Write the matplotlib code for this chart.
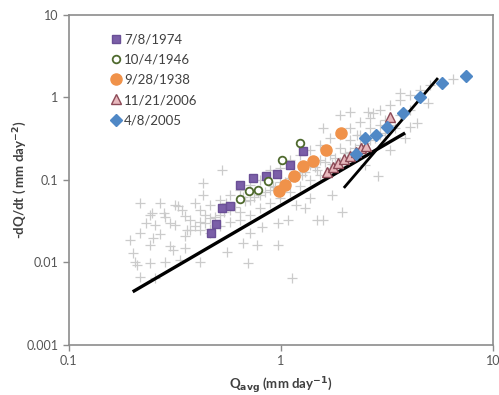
import numpy as np
import matplotlib.pyplot as plt
from matplotlib.ticker import FixedLocator, NullLocator

plt.rcParams['font.family'] = ['Lato', 'DejaVu Sans']

# storm events
q_1974 = [0.468, 0.493, 0.527, 0.574, 0.641, 0.738, 0.849, 0.957, 1.10, 1.27]
dq_1974 = [0.0228, 0.0293, 0.0458, 0.0484, 0.0869, 0.106, 0.112, 0.118, 0.152, 0.225]

q_1946 = [0.641, 0.706, 0.780, 0.869, 1.01, 1.23]
dq_1946 = [0.0589, 0.0736, 0.0756, 0.0973, 0.175, 0.281]

q_1938 = [0.980, 1.04, 1.15, 1.27, 1.42, 1.63, 1.92]
dq_1938 = [0.0736, 0.0869, 0.112, 0.148, 0.170, 0.231, 0.371]

q_2006 = [1.65, 1.76, 1.86, 1.98, 2.12, 2.26, 2.38, 2.52, 3.27]
dq_2006 = [0.125, 0.144, 0.161, 0.180, 0.195, 0.218, 0.244, 0.258, 0.580]

q_2005 = [2.26, 2.49, 2.81, 3.16, 3.76, 4.53, 5.74, 7.46]
dq_2005 = [0.207, 0.323, 0.351, 0.439, 0.649, 1.01, 1.50, 1.82]

# all other recession points (grey crosses)
q_all = [0.216, 0.269, 0.316, 0.393, 0.241, 0.284, 0.352, 0.438, 0.255, 0.316,
         0.393, 0.216, 0.269, 0.352, 0.462, 0.241, 0.299, 0.352, 0.205, 0.241,
         0.284, 0.334, 0.415, 0.216, 0.255, 0.327, 0.246, 0.209, 0.527, 0.428,
         0.428, 0.194,
         1.37, 1.74, 1.94, 1.48, 1.58, 1.08, 0.968, 0.813, 0.714, 0.968,
         0.771, 0.662, 0.698, 0.556, 1.13, 1.30, 1.18,
         3.64, 2.12, 2.57, 2.71, 1.58, 4.38, 4.94, 6.48, 2.87, 2.28,
         3.85, 4.06, 1.90, 3.10, 2.49, 3.27,
         0.372, 0.372, 0.415, 0.415, 0.415, 0.462, 0.462, 0.462, 0.515, 0.515,
         0.515, 0.574, 0.574, 0.574, 0.641, 0.641, 0.641, 0.714, 0.714, 0.714,
         0.796, 0.796, 0.796, 0.887, 0.887, 0.887, 0.989, 0.989, 0.989, 1.10,
         1.10, 1.10, 1.23, 1.23, 1.23, 1.37, 1.37, 1.37, 1.53, 1.53,
         1.53, 1.70, 1.70, 1.70, 1.90, 1.90, 1.90, 2.12, 2.12, 2.12,
         2.36, 2.36, 2.36, 2.63, 2.63, 2.63, 2.93, 2.93, 2.93, 3.27,
         3.27, 3.64, 3.64, 4.06, 4.06, 4.53, 5.04,
         0.44, 0.49, 0.54, 0.61, 0.68, 0.75, 0.84, 0.94, 1.04, 1.16,
         1.30, 1.45, 1.62, 1.80, 2.01, 2.24, 2.50, 2.78, 3.10, 3.45,
         0.55, 0.66, 0.78, 0.92, 1.08, 1.26, 1.48, 1.74, 2.05, 2.40,
         0.30, 0.34, 0.36, 0.28, 0.23, 0.20, 0.25, 0.31]
dq_all = [0.0526, 0.0526, 0.0498, 0.0526, 0.0377, 0.0356, 0.0366, 0.0377, 0.0285, 0.0285,
          0.0278, 0.0228, 0.0222, 0.0210, 0.0228, 0.0163, 0.0159, 0.0150, 0.0101, 0.0099,
          0.0101, 0.0107, 0.0101, 0.0067, 0.0065, 0.0484, 0.0398, 0.0093, 0.132, 0.092,
          0.0658, 0.0187,
          0.0605, 0.0658, 0.0409, 0.0327, 0.0327, 0.0327, 0.0301, 0.0269, 0.0228, 0.0163,
          0.0163, 0.0172, 0.0098, 0.0134, 0.0065, 0.0458, 0.0498,
          1.13, 0.667, 0.667, 0.649, 0.427, 0.491, 0.857, 1.68, 0.112, 0.351,
          0.323, 0.439, 0.614, 0.534, 0.152, 0.231,
          0.0327, 0.0248, 0.0433, 0.0310, 0.0248, 0.0498, 0.0345, 0.0255, 0.0573, 0.0377,
          0.0278, 0.0658, 0.0433, 0.0310, 0.0756, 0.0409, 0.0327, 0.0869, 0.0573, 0.0377,
          0.100, 0.0658, 0.0458, 0.132, 0.0756, 0.0526, 0.140, 0.0946, 0.0605, 0.175,
          0.106, 0.0716, 0.201, 0.125, 0.0846, 0.231, 0.152, 0.100, 0.266, 0.175,
          0.115, 0.323, 0.201, 0.140, 0.351, 0.244, 0.165, 0.427, 0.305, 0.218,
          0.505, 0.351, 0.266, 0.565, 0.427, 0.305, 0.705, 0.464, 0.351, 0.811,
          0.464, 0.933, 0.614, 1.07, 0.705, 1.23, 1.42,
          0.030, 0.036, 0.041, 0.047, 0.055, 0.062, 0.071, 0.082, 0.094, 0.108,
          0.124, 0.142, 0.163, 0.187, 0.215, 0.247, 0.283, 0.325, 0.373, 0.428,
          0.052, 0.062, 0.072, 0.084, 0.098, 0.114, 0.133, 0.155, 0.180, 0.210,
          0.030, 0.043, 0.025, 0.040, 0.030, 0.013, 0.020, 0.014]

# power-law envelopes
fit1_q = [0.20, 3.85]
fit1_dq = [0.0044, 0.371]
fit2_q = [1.98, 5.5]
fit2_dq = [0.080, 1.72]

fig = plt.figure(figsize=(4.99, 3.95), dpi=100)
ax = fig.add_axes([0.138, 0.127, 0.850, 0.835])

ax.scatter(q_all, dq_all, marker='+', s=45, c='#cbcbcb', linewidths=0.9, zorder=1)

ax.plot(fit1_q, fit1_dq, color='black', lw=2.4, solid_capstyle='butt', zorder=3)
ax.plot(fit2_q, fit2_dq, color='black', lw=2.0, solid_capstyle='butt', zorder=3)

ax.plot(q_1974, dq_1974, 's', ms=5.5, color='#7b5fa8', mec='#6a4f96', label='7/8/1974', zorder=4)
ax.plot(q_1946, dq_1946, 'o', ms=5.5, mfc='white', mec='#4f6a2e', mew=1.3, label='10/4/1946', zorder=4)
ax.plot(q_1938, dq_1938, 'o', ms=8, color='#f0924a', mec='#f0924a', label='9/28/1938', zorder=4)
ax.plot(q_2006, dq_2006, '^', ms=6.5, mfc='#e8b8bd', mec='#8c4a57', mew=1.0, label='11/21/2006', zorder=4)
ax.plot(q_2005, dq_2005, 'D', ms=6, color='#4f88c6', mec='#4f88c6', label='4/8/2005', zorder=4)

ax.set_xscale('log')
ax.set_yscale('log')
ax.set_xlim(0.1, 10)
ax.set_ylim(0.001, 10)

ax.xaxis.set_major_locator(FixedLocator([0.1, 1, 10]))
ax.xaxis.set_minor_locator(NullLocator())
ax.yaxis.set_major_locator(FixedLocator([0.001, 0.01, 0.1, 1, 10]))
ax.yaxis.set_minor_locator(NullLocator())
ax.set_xticklabels(['0.1', '1', '10'])
ax.set_yticklabels(['0.001', '0.01', '0.1', '1', '10'])

for s in ax.spines.values():
    s.set_color('#8c8c8c')
    s.set_linewidth(1.2)
ax.tick_params(colors='#8c8c8c', labelcolor='#555555', labelsize=9, length=4, width=1)

ax.set_xlabel('Q$_{\\mathbf{avg}}$ (mm day$^{\\mathbf{-1}}$)', fontsize=9.5, fontweight='bold',
              color='#404040', labelpad=6)
ax.set_ylabel('-dQ/dt ( mm day$^{\\mathbf{-2}}$)', fontsize=9.5, fontweight='bold',
              color='#404040')
ax.yaxis.set_label_coords(-0.095, 0.5)

leg = ax.legend(loc='upper left', bbox_to_anchor=(0.09, 0.96), frameon=False, fontsize=9.5,
                handlelength=0.6, handletextpad=0.3, labelspacing=0.62, borderaxespad=0)
for t in leg.get_texts():
    t.set_color('#404040')

fig.savefig('out.png', dpi=100)
